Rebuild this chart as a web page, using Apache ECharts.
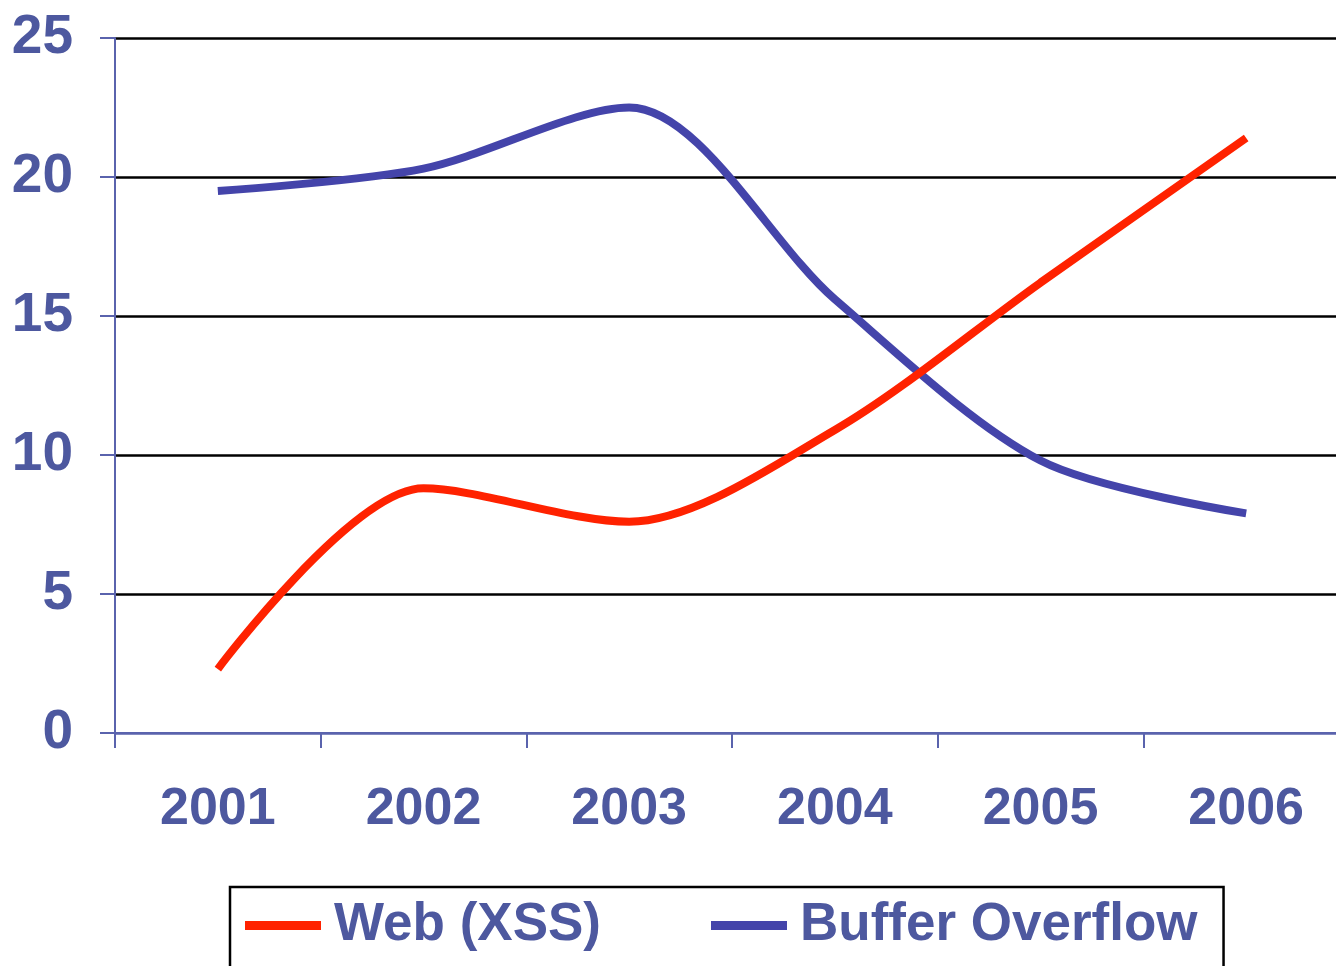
<!DOCTYPE html>
<html>
<head>
<meta charset="utf-8">
<script src="https://cdn.jsdelivr.net/npm/echarts@6/dist/echarts.min.js"></script>
<style>
  html, body { margin: 0; padding: 0; background: #ffffff; }
  #chart { width: 1336px; height: 966px; }
</style>
</head>
<body>
<div id="chart"></div>
<script>
const categories = ['2001', '2002', '2003', '2004', '2005', '2006'];
const webXss = [2.3, 8.8, 7.6, 10.9, 16.2, 21.4];
const bufferOverflow = [19.5, 20.3, 22.5, 15.6, 9.8, 7.9];
const seriesNames = ['Web (XSS)', 'Buffer Overflow'];

const textColor = '#4d589f';
const axisColor = '#5a63ad';
const fontFam = '"Liberation Sans", Arial, sans-serif';

const chart = echarts.init(document.getElementById('chart'), null, { renderer: 'canvas' });
chart.setOption({
  animation: false,
  backgroundColor: '#ffffff',
  grid: { left: 115, top: 38, width: 1234, height: 695, containLabel: false, outerBoundsMode: 'none' },
  legend: {
    left: 230,
    top: 887,
    orient: 'horizontal',
    data: seriesNames,
    icon: 'rect',
    itemWidth: 76,
    itemHeight: 9,
    itemGap: 110,
    padding: [12, 26, 60, 15],
    borderColor: '#000000',
    borderWidth: 2.5,
    backgroundColor: '#ffffff',
    textStyle: {
      color: textColor,
      fontFamily: fontFam,
      fontWeight: 'bold',
      fontSize: 53,
      padding: [0, 0, 0, 8]
    }
  },
  xAxis: {
    type: 'category',
    data: categories,
    boundaryGap: true,
    axisLine: { show: true, lineStyle: { color: axisColor, width: 2 } },
    axisTick: { show: true, length: 15, lineStyle: { color: axisColor, width: 2 } },
    axisLabel: {
      color: textColor,
      fontFamily: fontFam,
      fontWeight: 'bold',
      fontSize: 52,
      margin: 51
    },
    splitLine: { show: false }
  },
  yAxis: {
    type: 'value',
    min: 0,
    max: 25,
    interval: 5,
    axisLine: { show: true, lineStyle: { color: axisColor, width: 2 } },
    axisTick: { show: true, length: 15, lineStyle: { color: axisColor, width: 2 } },
    axisLabel: {
      color: textColor,
      fontFamily: fontFam,
      fontWeight: 'bold',
      fontSize: 55,
      margin: 42
    },
    splitLine: {
      show: true,
      lineStyle: { color: [axisColor, '#000000', '#000000', '#000000', '#000000', '#000000'], width: 2.5 }
    }
  },
  series: [
    {
      name: seriesNames[0],
      type: 'line',
      data: webXss,
      smooth: 0.3,
      symbol: 'none',
      lineStyle: { color: '#ff2200', width: 8 },
      itemStyle: { color: '#ff2200' },
      z: 3
    },
    {
      name: seriesNames[1],
      type: 'line',
      data: bufferOverflow,
      smooth: 0.3,
      symbol: 'none',
      lineStyle: { color: '#4444aa', width: 8 },
      itemStyle: { color: '#4444aa' },
      z: 2
    }
  ]
});
</script>
</body>
</html>
